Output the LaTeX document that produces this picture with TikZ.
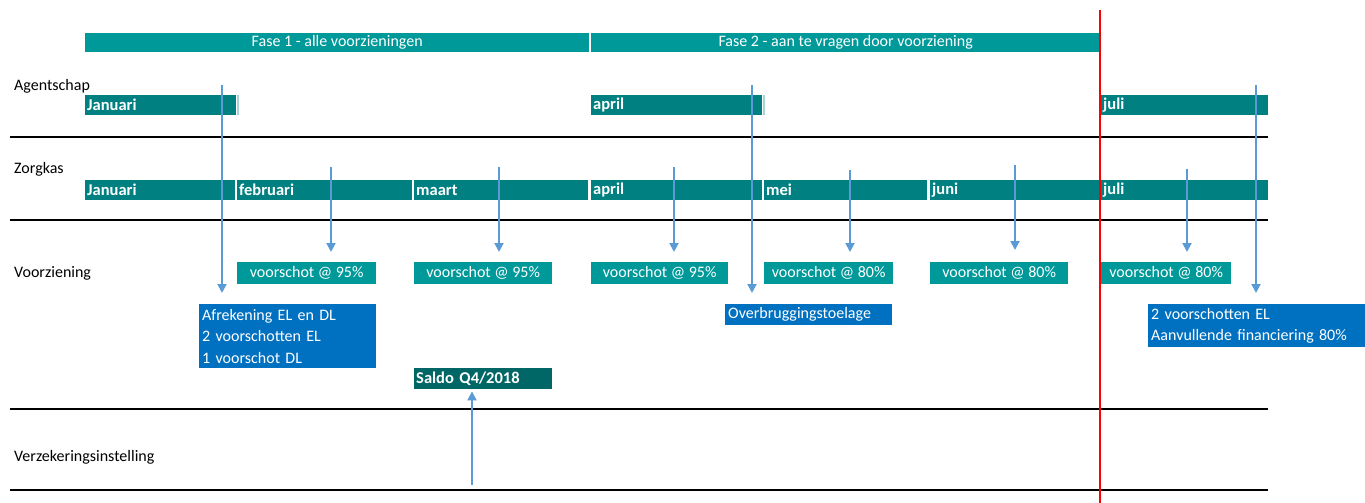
\documentclass[tikz,border=0pt]{standalone}
\usepackage{fontspec}
\setmainfont{Carlito}
\usetikzlibrary{arrows.meta}
\definecolor{phasec}{RGB}{0,153,153}
\definecolor{monthc}{RGB}{0,128,128}
\definecolor{vsc}{RGB}{0,153,153}
\definecolor{bluec}{RGB}{0,112,192}
\definecolor{darkc}{RGB}{0,102,102}
\definecolor{arrc}{RGB}{91,155,213}
\tikzset{
  txt/.style={font=\fontsize{16}{21.5}\selectfont},
  phasebar/.style={txt, anchor=north west, minimum width=#1, minimum height=19, inner sep=0, fill=phasec, text=white},
  mbar/.style={font=\bfseries\fontsize{16.5}{18}\selectfont, anchor=north west, text width=#1, minimum height=20, inner xsep=0, inner ysep=0, fill=monthc, text=white, align=left},
  vsbox/.style={txt, anchor=north west, minimum width=#1, minimum height=22, inner sep=0, fill=vsc, text=white},
  bluebox/.style={txt, anchor=north west, text width=#1, inner xsep=3, inner ysep=0, fill=bluec, text=white, align=left},
  rowlabel/.style={txt, anchor=west, inner sep=0, text=black},
  sep/.style={black, line width=1.4},
  arr/.style={draw=arrc, line width=2, -{Triangle[length=9,width=9]}},
}
\begin{document}
\begin{tikzpicture}[x=1pt,y=-1pt]
\useasboundingbox (0,0) rectangle (1365,503);
% phases
\node[phasebar=504] (f1) at (85,33) {Fase 1 - alle voorzieningen};
\node[phasebar=509] (f2) at (591,33) {Fase 2 - aan te vragen door voorziening};
% row labels
\node[rowlabel] (lag) at (14,86) {Agentschap};
\node[rowlabel] (lzk) at (14,169) {Zorgkas};
\node[rowlabel] (lvz) at (14,273) {Voorziening};
\node[rowlabel] (lvi) at (14,457) {Verzekeringsinstelling};
% separators
\draw[sep] (10,137) -- (1268,137);
\draw[sep] (10,220) -- (1268,220);
\draw[sep] (10,409) -- (1268,409);
\draw[sep] (10,490) -- (1268,490);
% agentschap bars
\node[mbar=151] (aj) at (85,95) {\hspace*{2pt}Januari};
\node[mbar=171] (aa) at (591,95) {\hspace*{2pt}april};
\node[mbar=167] (ajl) at (1101,95) {\hspace*{2pt}juli};
\fill[monthc!35] (237,95) rectangle (238.5,115);
\fill[monthc!35] (763,95) rectangle (764.5,115);
% zorgkas bars
\node[mbar=150] (zj) at (85,180) {\hspace*{2pt}Januari};
\node[mbar=175] (zf) at (237,180) {\hspace*{2pt}februari};
\node[mbar=174] (zm) at (414,180) {\hspace*{2pt}maart};
\node[mbar=171] (za) at (591,180) {\hspace*{2pt}april};
\node[mbar=163] (zme) at (764,180) {\hspace*{2pt}mei};
\node[mbar=169] (zju) at (930,180) {\hspace*{2pt}juni};
\node[mbar=167] (zjl) at (1101,180) {\hspace*{2pt}juli};
% voorschot boxes
\node[vsbox=139] (v1) at (237,262) {voorschot @ 95\%};
\node[vsbox=138] (v2) at (414,262) {voorschot @ 95\%};
\node[vsbox=137] (v3) at (591,262) {voorschot @ 95\%};
\node[vsbox=129] (v4) at (764,262) {voorschot @ 80\%};
\node[vsbox=138] (v5) at (930,262) {voorschot @ 80\%};
\node[vsbox=130] (v6) at (1101,262) {voorschot @ 80\%};
% blue boxes
\node[bluebox=171, minimum height=64] (afr) at (199,304) {Afrekening EL en DL\\2 voorschotten EL\\1 voorschot DL};
\node[bluebox=161, minimum height=21] (ovb) at (725,304) {Overbruggingstoelage};
\node[bluebox=211, minimum height=43] (rb) at (1148,304) {2 voorschotten EL\\Aanvullende financiering 80\%};
\node[font=\bfseries\fontsize{16.5}{18}\selectfont, anchor=north west, text width=138, minimum height=21, inner xsep=0, inner ysep=0, fill=darkc, text=white, align=left] (sal) at (414,368) {\hspace*{2pt}Saldo Q4/2018};
% red line
\draw[red, line width=1.5] (1100,10) -- (1100,503);
% arrows
\coordinate (s1) at (222,85);
\coordinate (s2) at (331,167);
\coordinate (s3) at (499,167);
\coordinate (s4) at (674,167);
\coordinate (s5) at (752,85);
\coordinate (s6) at (850,170);
\coordinate (s7) at (1015,165);
\coordinate (s8) at (1187,169);
\coordinate (s9) at (1256,85);
\coordinate (s10) at (472,485);
\draw[arr, shorten >=11] (s1) -- (s1 |- afr.north);
\draw[arr, shorten >=10] (s2) -- (s2 |- v1.north);
\draw[arr, shorten >=10] (s3) -- (s3 |- v2.north);
\draw[arr, shorten >=10] (s4) -- (s4 |- v3.north);
\draw[arr, shorten >=11] (s5) -- (s5 |- ovb.north);
\draw[arr, shorten >=10] (s6) -- (s6 |- v4.north);
\draw[arr, shorten >=12] (s7) -- (s7 |- v5.north);
\draw[arr, shorten >=10] (s8) -- (s8 |- v6.north);
\draw[arr, shorten >=11] (s9) -- (s9 |- rb.north);
\draw[arr, shorten >=2] (s10) -- (s10 |- sal.south);
\end{tikzpicture}
\end{document}
